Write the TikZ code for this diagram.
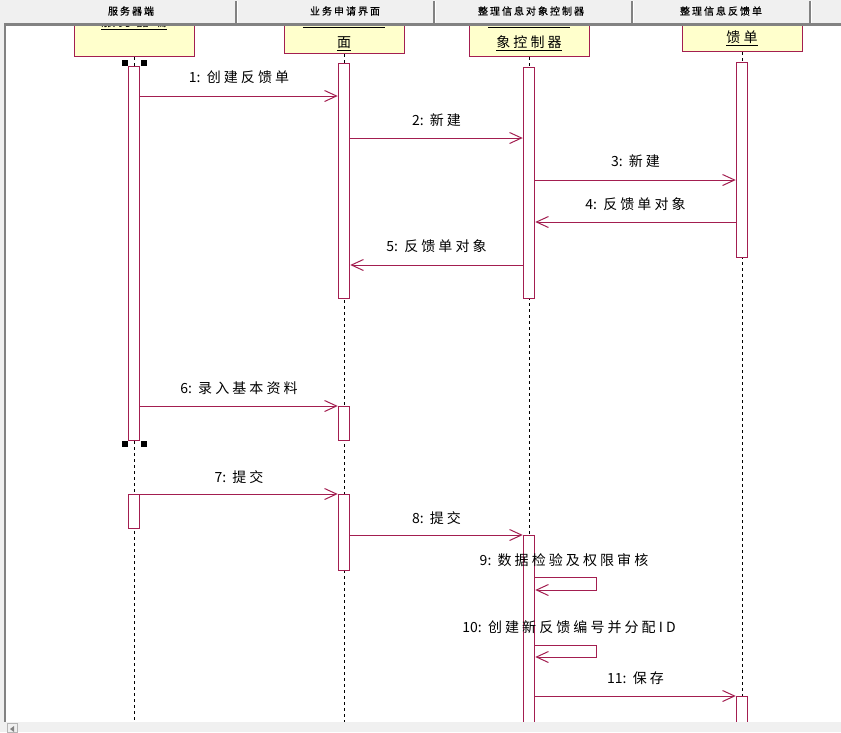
\documentclass[tikz,border=0pt]{standalone}
\usepackage{fontspec}
\setmainfont{Noto Sans CJK SC}
\newfontfamily\msgfont[LetterSpace=22]{Noto Sans CJK SC}
\newfontfamily\numfont{Noto Sans CJK SC}
\newfontfamily\hdrfont[LetterSpace=20,FakeBold=0.6]{Noto Sans CJK SC}
\newcommand{\msgno}[1]{{\numfont#1:}\ }
\usetikzlibrary{arrows.meta}

\definecolor{roseline}{RGB}{163,30,80}
\definecolor{rosefill}{RGB}{255,255,204}
\definecolor{panegrey}{RGB}{240,240,240}
\definecolor{edgegrey}{RGB}{130,130,130}

\tikzset{
  object/.style={draw=roseline, fill=rosefill, minimum width=120pt, inner sep=0pt, anchor=south},
  objname/.style={font=\msgfont\fontsize{14}{23}\selectfont, align=center, inner sep=0pt},
  act/.style={draw=roseline, fill=white, minimum width=11.5pt, inner sep=0pt},
  msg/.style={draw=roseline, -{Straight Barb[length=12pt,width=11pt]}},
  msglabel/.style={font=\msgfont\fontsize{14}{16}\selectfont, inner sep=0pt},
  lifeline/.style={draw=black, dash pattern=on 3pt off 3pt},
  handle/.style={fill=black, minimum size=6pt, inner sep=0pt},
  hdrlabel/.style={font=\hdrfont\fontsize{10}{12}\selectfont, inner sep=0pt}
}

\begin{document}
\begin{tikzpicture}[x=1pt, y=-1pt, line width=1pt]
  \useasboundingbox (0,0) rectangle (841,732);
  \fill[white] (0,0) rectangle (841,732);

  % objects, their tops hidden under the header
  \begin{scope}
    \clip (0,26) rectangle (841,722);
    \node[object, minimum height=70pt] (srvbox) at (134,57) {};
    \node[object, minimum height=60pt] (uibox) at (344,54) {};
    \node[object, minimum height=60pt] (ctlbox) at (529,57) {};
    \node[object, minimum height=60pt] (fbbox) at (742,52) {};
    \node[objname] (srvname) at (134,22) {\underline{服务器端}};
    \node[objname] (uiname) at (344,32) {\underline{业务申请界}\\\underline{面}};
    \node[objname] (ctlname) at (529,32) {\underline{整理信息对}\\\underline{象控制器}};
    \node[objname] (fbname) at (742,27) {\underline{整理信息反}\\\underline{馈单}};
  \end{scope}

  % lifelines
  \coordinate (srvend) at (134,722);
  \coordinate (uiend) at (344,722);
  \coordinate (ctlend) at (529,722);
  \coordinate (fbend) at (742,722);
  \draw[lifeline] (srvbox) -- (srvend);
  \draw[lifeline] (uibox) -- (uiend);
  \draw[lifeline] (ctlbox) -- (ctlend);
  \draw[lifeline] (fbbox) -- (fbend);

  % activations
  \node[act, minimum height=374pt] (srv1) at (134,253) {};
  \node[act, minimum height=34pt] (srv2) at (134,511) {};
  \node[act, minimum height=235pt] (ui1) at (344,180.5) {};
  \node[act, minimum height=34pt] (ui2) at (344,423) {};
  \node[act, minimum height=76pt] (ui3) at (344,532) {};
  \node[act, minimum height=231pt] (ctl1) at (529,182.5) {};
  \node[act, minimum height=190pt] (ctl2) at (529,630) {};
  \node[act, minimum height=30pt] (fb2) at (742,711) {};
  \node[act, minimum height=195pt] (fb1) at (742,159.5) {};

  \node[handle] (h1) at (125,63) {};
  \node[handle] (h2) at (144,63) {};
  \node[handle] (h3) at (125,444) {};
  \node[handle] (h4) at (144,444) {};

  % messages
  \draw[msg] (srv1.east |- 0,96) -- (ui1.west |- 0,96)
    node[msglabel, midway, yshift=19pt] (m1) {\msgno{1}创建反馈单};
  \draw[msg] (ui1.east |- 0,138) -- (ctl1.west |- 0,138)
    node[msglabel, midway, yshift=18pt] (m2) {\msgno{2}新建};
  \draw[msg] (ctl1.east |- 0,180) -- (fb1.west |- 0,180)
    node[msglabel, midway, yshift=19pt] (m3) {\msgno{3}新建};
  \draw[msg] (fb1.west |- 0,222) -- (ctl1.east |- 0,222)
    node[msglabel, midway, yshift=18pt] (m4) {\msgno{4}反馈单对象};
  \draw[msg] (ctl1.west |- 0,265) -- (ui1.east |- 0,265)
    node[msglabel, midway, yshift=19pt] (m5) {\msgno{5}反馈单对象};
  \draw[msg] (srv1.east |- 0,406) -- (ui2.west |- 0,406)
    node[msglabel, midway, yshift=18pt] (m6) {\msgno{6}录入基本资料};
  \draw[msg] (srv2.east |- 0,494) -- (ui3.west |- 0,494)
    node[msglabel, midway, yshift=17pt] (m7) {\msgno{7}提交};
  \draw[msg] (ui3.east |- 0,535) -- (ctl2.west |- 0,535)
    node[msglabel, midway, yshift=17pt] (m8) {\msgno{8}提交};
  \draw[msg] (ctl2.east |- 0,577) -- ++(61,0) -- ++(0,13) -- (ctl2.east |- 0,590);
  \node[msglabel] (m9) at (564,560) {\msgno{9}数据检验及权限审核};
  \draw[msg] (ctl2.east |- 0,645) -- ++(61,0) -- ++(0,12) -- (ctl2.east |- 0,657);
  \node[msglabel] (m10) at (569,627) {\msgno{10}创建新反馈编号并分配ID};
  \draw[msg] (ctl2.east |- 0,696) -- (fb2.west |- 0,696)
    node[msglabel, midway, yshift=18pt] (m11) {\msgno{11}保存};

  % window frame
  \fill[panegrey] (0,0) rectangle (841,23);
  \foreach \xs in {236,434,632,810} {
    \draw[edgegrey, line width=1.2pt] (\xs,1) -- (\xs,23);
    \draw[white] (\xs+1.5,1) -- (\xs+1.5,23);
  }
  \draw[edgegrey, line width=3pt] (4,24.5) -- (841,24.5);
  \node[hdrlabel] (hdr1) at (131,11) {服务器端};
  \node[hdrlabel] (hdr2) at (345,11) {业务申请界面};
  \node[hdrlabel] (hdr3) at (531,11) {整理信息对象控制器};
  \node[hdrlabel] (hdr4) at (721,11) {整理信息反馈单};
  \fill[panegrey] (0,0) rectangle (4,732);
  \draw[edgegrey, line width=2pt] (5,23) -- (5,722);
  \fill[panegrey] (0,722) rectangle (841,732);
  \draw[edgegrey!60, fill=panegrey] (7,723) rectangle (17,732);
  \fill[edgegrey] (10,729) -- (14,726) -- (14,732) -- cycle;
\end{tikzpicture}
\end{document}
